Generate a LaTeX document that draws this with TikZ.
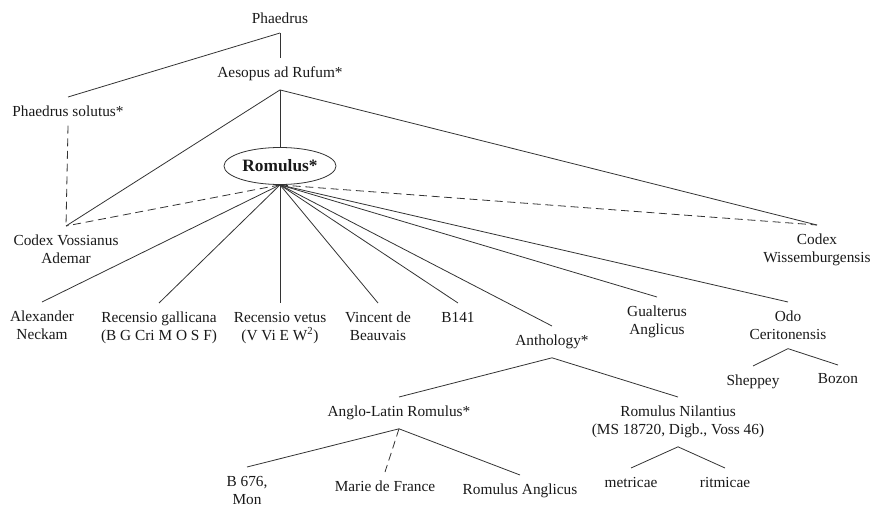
\documentclass[tikz,border=0pt]{standalone}
\usepackage{fontspec}
\setmainfont{Liberation Serif}
\usepackage{tikz}
\usetikzlibrary{shapes.geometric}

\begin{document}
\begin{tikzpicture}[x=0.75pt,y=0.75pt,yscale=-1,xscale=1,
  txt/.style={inner xsep=1.5pt,inner ysep=6.5pt,align=center,font=\fontsize{11.5}{13.5}\selectfont,text=black!90},
  link/.style={line width=0.6pt,draw=black!80},
  guess/.style={link,dash pattern=on 6pt off 3.5pt}]
\useasboundingbox (0,0) rectangle (873,506);

% Text Node
\node [txt,anchor=south] (phaedrus) at (280,33) {Phaedrus};
% Text Node
\node [txt,anchor=north] (aesop) at (280,58) {Aesopus ad Rufum*};
% Text Node
\node [txt,anchor=north] (solutus) at (68,97) {Phaedrus solutus*};
% Text Node
\node [ellipse,draw=black!80,line width=0.6pt,minimum width=84pt,minimum height=27.75pt,inner sep=0pt,text=black!90] (romulus) at (280,166) {\fontsize{13}{15}\selectfont\bfseries Romulus*};
% Text Node
\node [txt,anchor=north] (vossianus) at (66,226) {Codex Vossianus\\Ademar};
% Text Node
\node [txt,anchor=north] (wissem) at (817,225) {Codex\\Wissemburgensis};

% Text Node
\node [txt,anchor=north] (neckam) at (42,302) {Alexander\\Neckam};
% Text Node
\node [txt,anchor=north] (gallicana) at (159,303) {Recensio gallicana\\(B G Cri M O S F)};
% Text Node
\node [txt,anchor=north] (vetus) at (280,303) {Recensio vetus\\(V Vi E W\textsuperscript{2})};
% Text Node
\node [txt,anchor=north] (vincent) at (378,303) {Vincent de\\Beauvais};
% Text Node
\node [txt,anchor=north] (bcxli) at (458,303) {B141};
% Text Node
\node [txt,anchor=north] (anthology) at (552,326) {Anthology*};
% Text Node
\node [txt,anchor=north] (gualterus) at (657,297) {Gualterus\\Anglicus};
% Text Node
\node [txt,anchor=north] (odo) at (788,302) {Odo\\Ceritonensis};
% Text Node
\node [txt,anchor=north] (sheppey) at (753,366) {Sheppey};
% Text Node
\node [txt,anchor=north] (bozon) at (838,365) {Bozon};

% Text Node
\node [txt,anchor=north] (anglolatin) at (399,397) {Anglo-Latin Romulus*};
% Text Node
\node [txt,anchor=north] (nilantius) at (678,397) {Romulus Nilantius\\(MS 18720, Digb., Voss 46)};
% Text Node
\node [txt,anchor=north] (bmon) at (247,467) {B 676,\\Mon};
% Text Node
\node [txt,anchor=north] (marie) at (385,472) {Marie de France};
% Text Node
\node [txt,anchor=north] (anglicus) at (520,475) {Romulus Anglicus};
% Text Node
\node [txt,anchor=north] (metricae) at (631,468) {metricae};
% Text Node
\node [txt,anchor=north] (ritmicae) at (725,468) {ritmicae};

%Straight Lines
\draw [link] (phaedrus.south) -- (aesop.north);
\draw [link] (phaedrus.south) -- (solutus.north);
\draw [link] (aesop.south) -- (romulus.north);
\draw [link] (aesop.south) -- (vossianus.north);
\draw [link] (aesop.south) -- (wissem.north);
\draw [guess] (solutus.south) -- (vossianus.north);
\draw [guess] (romulus.south) -- (vossianus.north);
\draw [guess] (romulus.south) -- (wissem.north);

%Straight Lines
\draw [link] (romulus.south) -- (neckam.north);
\draw [link] (romulus.south) -- (gallicana.north);
\draw [link] (romulus.south) -- (vetus.north);
\draw [link] (romulus.south) -- (vincent.north);
\draw [link] (romulus.south) -- (bcxli.north);
\draw [link] (romulus.south) -- (anthology.north);
\draw [link] (romulus.south) -- (gualterus.north);
\draw [link] (romulus.south) -- (odo.north);
\draw [link] (odo.south) -- (sheppey.north);
\draw [link] (odo.south) -- (bozon.north);

%Straight Lines
\draw [link] (anthology.south) -- (anglolatin.north);
\draw [link] (anthology.south) -- (nilantius.north);
\draw [link] (anglolatin.south) -- (bmon.north);
\draw [guess] (anglolatin.south) -- (marie.north);
\draw [link] (anglolatin.south) -- (anglicus.north);
\draw [link] (nilantius.south) -- (metricae.north);
\draw [link] (nilantius.south) -- (ritmicae.north);

\end{tikzpicture}
\end{document}
